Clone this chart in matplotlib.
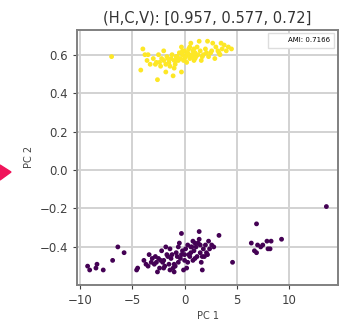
import numpy as np
import matplotlib
matplotlib.use("Agg")
import matplotlib.pyplot as plt
from matplotlib.patches import Polygon

# cluster 1 (yellow) - PC1, PC2
c1_x = [-7.0, -4.2, -4.0, -3.8, -3.5, -3.3, -3.0, -2.8, -2.6, -2.7, -2.5, -2.3, -2.2,
        -2.0, -1.8, -1.8, -1.7, -1.5, -1.4, -1.3, -1.2, -1.1, -1.0, -0.9, -0.8, -0.7,
        -0.5, -0.4, -0.3, -0.3, -0.2, -0.1, 0.0, 0.1, 0.2, 0.3, 0.4, 0.5, 0.6, 0.7,
        0.8, 0.9, 1.0, 1.1, 1.2, 1.3, 1.4, 1.5, 1.6, 1.8, 2.0, 2.1, 2.2, 2.3, 2.5,
        2.7, 2.9, 3.0, 3.2, 3.4, 3.5, 3.6, 3.8, 4.0, 4.2, 4.5, -2.0, -0.6, 0.2, 0.5,
        -1.6, -0.2, 0.9, 1.7, -2.4, -1.0, 0.0, 0.4, 1.0, 2.6, 3.3, -3.6, -0.8, 0.7]
c1_y = [0.59, 0.52, 0.63, 0.60, 0.60, 0.55, 0.58, 0.55, 0.47, 0.56, 0.60, 0.54, 0.58,
        0.57, 0.51, 0.55, 0.59, 0.56, 0.54, 0.58, 0.60, 0.49, 0.57, 0.55, 0.59, 0.59,
        0.61, 0.58, 0.64, 0.51, 0.60, 0.57, 0.62, 0.59, 0.56, 0.61, 0.63, 0.58, 0.66,
        0.60, 0.62, 0.57, 0.61, 0.59, 0.64, 0.60, 0.67, 0.62, 0.57, 0.60, 0.63, 0.61,
        0.67, 0.59, 0.61, 0.66, 0.58, 0.64, 0.62, 0.60, 0.66, 0.63, 0.65, 0.62, 0.64,
        0.63, 0.62, 0.57, 0.60, 0.64, 0.58, 0.62, 0.63, 0.59, 0.56, 0.53, 0.58, 0.60,
        0.58, 0.62, 0.61, 0.57, 0.57, 0.59]

# cluster 2 (purple)
c2_x = [13.6, -9.3, -9.1, -8.4, -8.5, -7.8, -6.9, -6.4, -5.8, -4.6, -4.5, -3.9,
        -3.5, -3.4, -3.1, -2.7, -2.6, -2.9, -2.4, -2.2, -2.0, -1.9, -1.8, -1.6, -1.4,
        -1.3, -1.1, -1.0, -0.8, -0.7, -0.6, -0.5, -0.3, -0.2, 0.0, 0.1, 0.2, 0.3,
        0.4, 0.6, 0.7, 0.8, 0.9, 1.1, 1.2, 1.3, 1.4, 1.5, 1.6, 1.7, 1.8, 2.0, 2.1,
        2.3, 2.4, 2.6, 3.3, 1.4, -0.3, 4.6, 6.9, 6.4, 6.7, 6.9, 7.3, 7.5, 7.9, 8.0,
        8.2, 8.3, 9.3, 7.0, -2.5, -2.1, -1.7, -1.5, -1.2, -0.9, -0.4, 0.5, 1.0,
        -3.2, -2.8, -1.0, 0.3, 1.9, 2.2, 1.0, 0.0, -0.6, -2.3, -1.4, 0.8, 1.5,
        -3.7, -2.0, 2.8, 1.7, -0.1, 0.6]
c2_y = [-0.19, -0.50, -0.52, -0.49, -0.51, -0.52, -0.47, -0.40, -0.43, -0.52, -0.51,
        -0.47, -0.50, -0.44, -0.46, -0.48, -0.53, -0.49, -0.51, -0.42, -0.47, -0.50,
        -0.40, -0.45, -0.41, -0.46, -0.51, -0.49, -0.43, -0.45, -0.48, -0.38, -0.44,
        -0.42, -0.47, -0.41, -0.51, -0.39, -0.44, -0.43, -0.40, -0.37, -0.42, -0.40,
        -0.45, -0.38, -0.36, -0.39, -0.48, -0.52, -0.41, -0.39, -0.43, -0.37, -0.41,
        -0.39, -0.34, -0.32, -0.33, -0.48, -0.28, -0.38, -0.42, -0.43, -0.40, -0.39,
        -0.37, -0.41, -0.41, -0.37, -0.36, -0.39, -0.46, -0.48, -0.44, -0.49, -0.44,
        -0.50, -0.46, -0.45, -0.46, -0.48, -0.45, -0.53, -0.48, -0.45, -0.44, -0.38,
        -0.44, -0.40, -0.47, -0.52, -0.47, -0.43, -0.49, -0.51, -0.40, -0.45, -0.52,
        -0.40]

title = "(H,C,V): [0.957, 0.577, 0.72]"
ami_label = "AMI: 0.7166"

X = np.array(c1_x + c2_x)
Y = np.array(c1_y + c2_y)
labels = np.array([1] * len(c1_x) + [0] * len(c2_x))

fig = plt.figure(figsize=(3.43, 3.30), dpi=100)
ax = fig.add_axes([0.225, 0.137, 0.76, 0.773])
ax.scatter(X, Y, c=labels, cmap="viridis", s=6, zorder=3)
ax.plot([], [], " ", label=ami_label)
ax.set_xlim(-10.3, 14.7)
ax.set_ylim(-0.597, 0.73)
ax.set_xticks([-10, -5, 0, 5, 10])
ax.set_yticks([-0.4, -0.2, 0.0, 0.2, 0.4, 0.6])
ax.grid(True, color="#d2d2d2", lw=1.4)
ax.set_axisbelow(True)
for sp in ax.spines.values():
    sp.set_color("#808080")
    sp.set_linewidth(1.4)
ax.tick_params(labelsize=8.5, colors="#404040", length=3)
ax.set_xlabel("PC 1", fontsize=7, color="#444444", labelpad=3)
ax.set_ylabel("PC 2", fontsize=7, color="#444444", labelpad=4)
ax.set_title(title, fontsize=10.5, color="#333333", pad=5)
leg = ax.legend(loc="upper right", fontsize=5, handlelength=1.5, borderpad=0.6,
                fancybox=False, framealpha=1)
leg.get_frame().set_edgecolor("#dddddd")

# red arrow tip at left edge
fig.patches.append(Polygon([[0, 165 / 330], [11 / 343, 158 / 330], [0, 150 / 330]],
                           closed=True, transform=fig.transFigure,
                           color="#f0145a", zorder=5))

fig.savefig("out.png", dpi=100)
